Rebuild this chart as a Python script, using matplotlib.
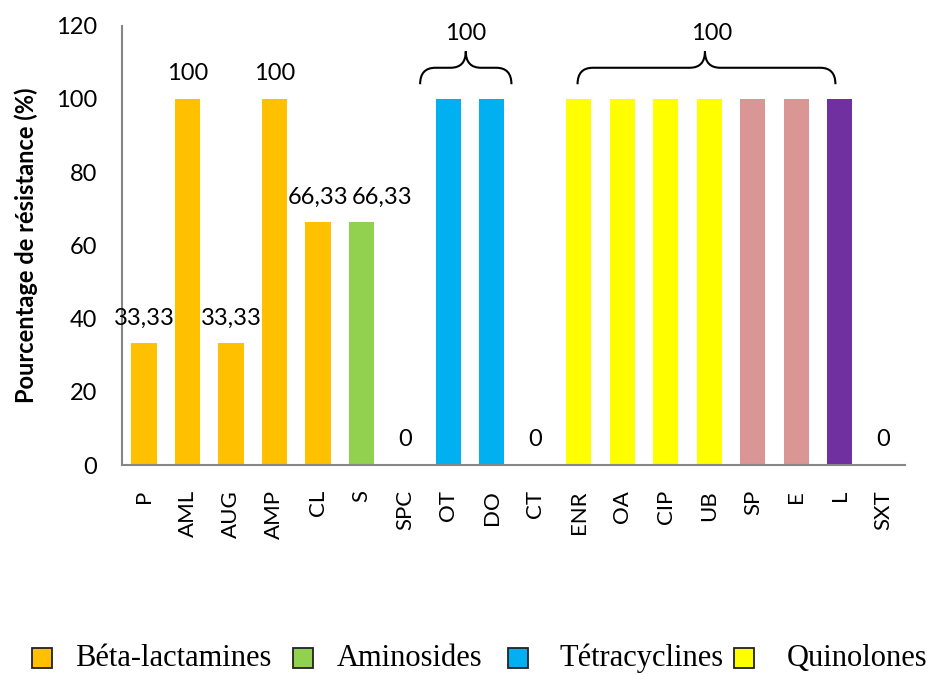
import matplotlib
matplotlib.use('Agg')
import matplotlib.pyplot as plt
from matplotlib.path import Path
from matplotlib.patches import PathPatch, Rectangle

# Data
categories = ['P', 'AML', 'AUG', 'AMP', 'CL', 'S', 'SPC', 'OT', 'DO', 'CT',
              'ENR', 'OA', 'CIP', 'UB', 'SP', 'E', 'L', 'SXT']
values = [33.33, 100, 33.33, 100, 66.33, 66.33, 0, 100, 100, 0,
          100, 100, 100, 100, 100, 100, 100, 0]
families = ['beta', 'beta', 'beta', 'beta', 'beta', 'amino', 'amino', 'tetra', 'tetra', 'tetra',
            'quino', 'quino', 'quino', 'quino', 'macro', 'macro', 'lincos', 'sulfa']
labels_shown = ['33,33', '100', '33,33', '100', '66,33', '66,33', '0', '', '', '0',
                '', '', '', '', '', '', '', '0']
legend_names = ['Béta-lactamines', 'Aminosides', 'Tétracyclines', 'Quinolones']
legend_keys = ['beta', 'amino', 'tetra', 'quino']

colors = {
    'beta': '#FFC000',
    'amino': '#92D050',
    'tetra': '#00B0F0',
    'quino': '#FFFF00',
    'macro': '#D99694',
    'lincos': '#7030A0',
    'sulfa': '#FFFFFF',
}

plt.rcParams['font.family'] = ['Lato', 'DejaVu Sans']

W, H = 933, 675
fig = plt.figure(figsize=(W / 100, H / 100), dpi=100)
ax = fig.add_axes([0.131, 0.311, 0.839, 0.651])

x = list(range(len(categories)))
ax.bar(x, values, width=0.58, color=[colors[f] for f in families])

# the second 66,33 label sits to the right of its bar, as in the source
label_dx = {'S': 0.47}
for xi, cat, v, lab in zip(x, categories, values, labels_shown):
    if lab:
        ax.text(xi + label_dx.get(cat, 0), v + 4, lab, ha='center', va='bottom', fontsize=17)


def brace(ax, x0, x1, xm, y0, y1, y2):
    r = 0.35
    verts = [(x0, y0), (x0, y1), (x0 + r, y1),
             (xm - r, y1), (xm, y1), (xm, y2),
             (xm, y1), (xm + r, y1),
             (x1 - r, y1), (x1, y1), (x1, y0)]
    codes = [Path.MOVETO, Path.CURVE3, Path.CURVE3,
             Path.LINETO, Path.CURVE3, Path.CURVE3,
             Path.CURVE3, Path.CURVE3,
             Path.LINETO, Path.CURVE3, Path.CURVE3]
    ax.add_patch(PathPatch(Path(verts, codes), fill=False, lw=1.5,
                           edgecolor='black', clip_on=False))


# braces over OT-DO and ENR..L with a shared "100"
i_ot, i_do = categories.index('OT'), categories.index('DO')
brace(ax, i_ot - 0.65, i_do + 0.45, (i_ot + i_do) / 2 - 0.1, 104, 108.5, 113)
ax.text((i_ot + i_do) / 2 - 0.1, 115, '100', ha='center', va='bottom', fontsize=17)
i_enr, i_l = categories.index('ENR'), categories.index('L')
brace(ax, i_enr - 0.03, i_l - 0.1, (i_enr + i_l) / 2 - 0.1, 104, 108.5, 113)
ax.text((i_enr + i_l) / 2 + 0.05, 115, '100', ha='center', va='bottom', fontsize=17)

ax.set_xlim(-0.5, len(categories) - 0.5)
ax.set_ylim(0, 120)
ax.set_yticks(range(0, 121, 20))
ax.tick_params(axis='y', length=0, pad=18, labelsize=17)
ax.set_xticks(x)
ax.set_xticklabels(categories, rotation=90, fontsize=16)
ax.tick_params(axis='x', length=0, pad=18)

for s in ['top', 'right']:
    ax.spines[s].set_visible(False)
for s in ['left', 'bottom']:
    ax.spines[s].set_color('#868686')
    ax.spines[s].set_linewidth(1.5)

ax.set_ylabel('Pourcentage de résistance (%)', fontsize=17, fontweight='bold', labelpad=13)

# legend drawn by hand (uneven spacing as in the source)
leg_box_x = [32, 293, 508, 734]
leg_text_x = [75, 337, 560, 787]
base_y = 666
for bx, tx, key, name in zip(leg_box_x, leg_text_x, legend_keys, legend_names):
    fig.add_artist(Rectangle((bx / W, 1 - (base_y + 2) / H), 20 / W, 20 / H,
                             transform=fig.transFigure, facecolor=colors[key],
                             edgecolor='#222222', linewidth=1.3))
    fig.text(tx / W, 1 - base_y / H, name, ha='left', va='baseline',
             family='Liberation Serif', fontsize=22)

fig.savefig('out.png', dpi=100)
